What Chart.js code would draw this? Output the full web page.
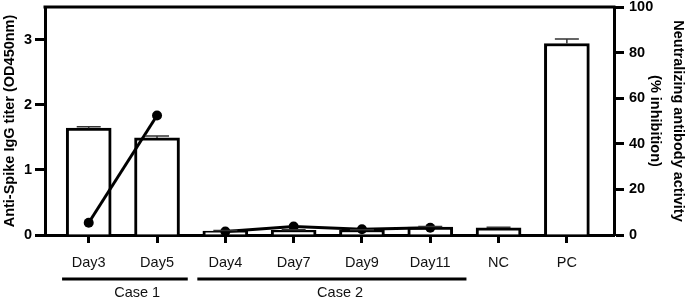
<!DOCTYPE html>
<html><head><meta charset="utf-8">
<script src="https://cdn.jsdelivr.net/npm/chart.js@4.4.1/dist/chart.umd.min.js"></script>
<style>html,body{margin:0;padding:0;background:#fff}#wrap{width:688px;height:299px;position:relative}</style>
</head><body><div id="wrap"><canvas id="c" width="688" height="299"></canvas></div>
<script>
// ---- data ----
const categories = ['Day3','Day5','Day4','Day7','Day9','Day11','NC','PC'];
const iggValues = [1.64, 1.49, 0.06, 0.07, 0.07, 0.12, 0.11, 2.94];
const iggErrors = [0.02, 0.03, 0.01, 0.01, 0.01, 0.01, 0.01, 0.07];
const case1Index = [0, 1];
const case1Inhibition = [5.4, 52.4];
const case2Index = [2, 3, 4, 5];
const case2Inhibition = [1.5, 3.7, 2.5, 3.2];
const groupLabels = ['Case 1', 'Case 2'];
const groupStart = [-0.39, 1.59];
const groupEnd = [1.45, 5.53];
const groupLabelPos = [0.71, 3.68];
const leftTicks = [0, 1, 2, 3];
const rightTicks = [0, 20, 40, 60, 80, 100];

const FONT = "'Liberation Sans', Arial, sans-serif";
Chart.defaults.font.family = FONT;
const FS = 14.5;

const extras = {
  id: 'extras',
  afterDatasetsDraw(chart) {
    const ctx = chart.ctx, x = chart.scales.x, y = chart.scales.y;
    ctx.save();
    ctx.strokeStyle = '#333'; ctx.lineWidth = 1.5;
    iggValues.forEach((v, i) => {
      const px = x.getPixelForValue(i);
      const yTop = y.getPixelForValue(v + iggErrors[i]);
      const yVal = y.getPixelForValue(v);
      ctx.beginPath();
      ctx.moveTo(px, yVal); ctx.lineTo(px, yTop);
      ctx.moveTo(px - 12, yTop); ctx.lineTo(px + 12, yTop);
      ctx.stroke();
    });
    ctx.restore();
  },
  afterDraw(chart) {
    const ctx = chart.ctx, x = chart.scales.x, a = chart.chartArea;
    ctx.save();
    ctx.strokeStyle = '#000'; ctx.lineWidth = 3;
    ctx.beginPath(); ctx.moveTo(a.left - 1.5, a.top); ctx.lineTo(a.right + 1.5, a.top); ctx.stroke();
    ctx.fillStyle = '#111';
    ctx.font = FS + "px " + FONT;
    ctx.textAlign = 'center'; ctx.textBaseline = 'middle';
    groupLabels.forEach((g, i) => {
      ctx.beginPath();
      ctx.moveTo(x.getPixelForValue(groupStart[i]), 279);
      ctx.lineTo(x.getPixelForValue(groupEnd[i]), 279);
      ctx.stroke();
      ctx.fillText(g, x.getPixelForValue(groupLabelPos[i]), 293);
    });
    ctx.restore();
  }
};

function fitY(w) {
  return s => { s.width = w; s.paddingTop = 0; s.paddingBottom = 0; };
}

new Chart(document.getElementById('c'), {
  data: {
    datasets: [
      { type: 'line', order: 0, yAxisID: 'y1',
        data: case1Index.map((k, i) => ({x: k, y: case1Inhibition[i]})),
        borderColor: '#000', backgroundColor: '#000', borderWidth: 3,
        pointRadius: 5, pointBackgroundColor: '#000', pointBorderWidth: 0 },
      { type: 'line', order: 0, yAxisID: 'y1',
        data: case2Index.map((k, i) => ({x: k, y: case2Inhibition[i]})),
        borderColor: '#000', backgroundColor: '#000', borderWidth: 3,
        pointRadius: 5, pointBackgroundColor: '#000', pointBorderWidth: 0 },
      { type: 'bar', order: 1, yAxisID: 'y',
        data: categories.map((c, i) => ({x: i, y: iggValues[i]})),
        backgroundColor: '#fff', borderColor: '#000', borderWidth: 3,
        barThickness: 45 }
    ]
  },
  options: {
    responsive: false, animation: false, devicePixelRatio: 1,
    layout: { padding: { top: 7, left: 0, right: 0, bottom: 0 } },
    plugins: { legend: { display: false }, tooltip: { enabled: false } },
    scales: {
      x: { type: 'linear', min: -0.64, max: 7.69, offset: false,
        afterBuildTicks: s => { s.ticks = categories.map((c, i) => ({value: i})); },
        afterFit: s => { s.height = 64; s.paddingLeft = 0; s.paddingRight = 0; },
        ticks: { callback: v => categories[v], color: '#111', font: { size: FS }, padding: 11, maxRotation: 0, autoSkip: false },
        grid: { offset: false, drawOnChartArea: false, tickLength: 8, tickWidth: 3, tickColor: '#000' },
        border: { color: '#000', width: 3 } },
      y: { position: 'left', min: 0, max: 3.5,
        afterBuildTicks: s => { s.ticks = leftTicks.map(v => ({value: v})); },
        afterFit: fitY(45),
        ticks: { color: '#000', font: { size: FS, weight: 'bold' }, padding: 3 },
        grid: { drawOnChartArea: false, tickLength: 10, tickWidth: 3, tickColor: '#000' },
        border: { color: '#000', width: 3 },
        title: { display: true, text: 'Anti-Spike IgG titer (OD450nm)', color: '#000',
          font: { size: FS, weight: 'bold' }, padding: { top: 1, bottom: 0 } } },
      y1: { position: 'right', min: 0, max: 100,
        afterBuildTicks: s => { s.ticks = rightTicks.map(v => ({value: v})); },
        afterFit: fitY(74),
        ticks: { color: '#000', font: { size: FS, weight: 'bold' }, padding: 5 },
        grid: { drawOnChartArea: false, tickLength: 10, tickWidth: 3, tickColor: '#000' },
        border: { color: '#000', width: 3 },
        title: { display: true, text: ['Neutralizing antibody activity', '(% inhibition)'], color: '#000',
          font: { size: FS, weight: 'bold', lineHeight: 1.6 }, padding: { top: -2, bottom: 0 } } }
    }
  },
  plugins: [extras]
});
</script></body></html>
